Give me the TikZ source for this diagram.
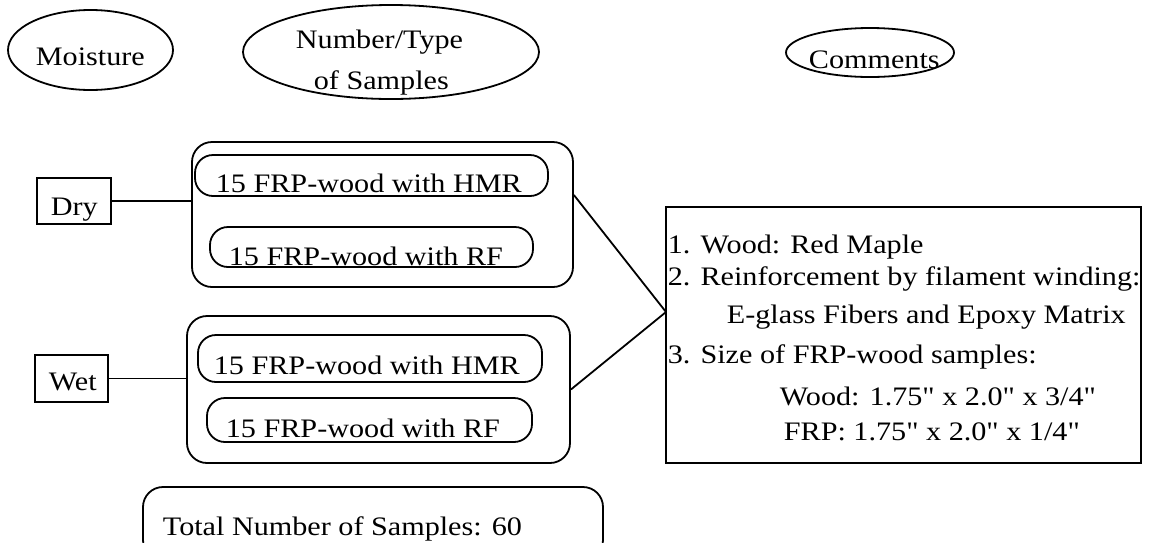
\documentclass[tikz,border=0pt]{standalone}
\usepackage{fontspec}
\newfontfamily\diagfont{Liberation Serif}[FakeStretch=1.13]
\usepackage{tikz}
\usetikzlibrary{positioning}
\usetikzlibrary{shapes.geometric}
\tikzset{% looks that repeat
        txt/.style={inner sep=0pt, anchor=base west},
        head/.style={draw, ellipse, inner sep=0pt},
        tag/.style={draw, rectangle, inner sep=0pt},
        setbox/.style={draw, rectangle, rounded corners=20pt, inner sep=0pt},
        pill/.style={draw, rectangle, rounded corners=18pt, inner sep=0pt}
        }

\begin{document}
\begin{tikzpicture}[x=1pt, y=-1pt, line width=1.8pt, font=\diagfont\fontsize{26.7}{32}\selectfont]
\useasboundingbox (0,0) rectangle (1149,542);
% headings
\node [head, minimum width=165pt, minimum height=80pt] (moist) at (90.5,50) {};
\node [head, minimum width=296pt, minimum height=94pt] (numtype) at (391,52) {};
\node [head, minimum width=168pt, minimum height=49pt] (comm) at (870,52.5) {};
\node [txt] (moisttxt) at (35,65) {Moisture};
\node [txt] (numtxt) at (295,48) {Number/Type};
\node [txt] (samptxt) at (313,89) {of Samples};
\node [txt] (commtxt) at (808,68) {Comments};
% moisture
\node [tag, minimum width=74pt, minimum height=46pt] (dry) at (74,201) {};
\node [tag, minimum width=73pt, minimum height=47pt] (wet) at (71.5,378.5) {};
\node [txt] (drytxt) at (50,215) {Dry};
\node [txt] (wettxt) at (48,390) {Wet};
% samples
\node [setbox, minimum width=381pt, minimum height=145pt] (dryset) at (382.5,214.5) {};
\node [setbox, minimum width=383pt, minimum height=147pt] (wetset) at (378.5,389.5) {};
\node [pill, minimum width=353pt, minimum height=41pt] (dryhmr) at (371.5,175.5) {};
\node [pill, minimum width=323pt, minimum height=40pt] (dryrf) at (371.5,247) {};
\node [pill, minimum width=344pt, minimum height=47pt] (wethmr) at (370,358.5) {};
\node [pill, minimum width=325pt, minimum height=44pt] (wetrf) at (369.5,420) {};
\node [txt] (dryhmrtxt) at (215,192) {15 FRP-wood with HMR};
\node [txt] (dryrftxt) at (228,265) {15 FRP-wood with RF};
\node [txt] (wethmrtxt) at (213,374) {15 FRP-wood with HMR};
\node [txt] (wetrftxt) at (225,437) {15 FRP-wood with RF};
\node [setbox, minimum width=460pt, minimum height=73pt] (total) at (373,523.5) {};
\node [txt] (totaltxt) at (162,535) {Total Number of Samples: 60};
% comments
\node [tag, minimum width=475pt, minimum height=256pt] (notes) at (903.5,335) {};
\coordinate (join) at (666,312);
\node [txt] (note1) at (667,253) {1. Wood: Red Maple};
\node [txt] (note2) at (667,285) {2. Reinforcement by filament winding:};
\node [txt] (note2b) at (726,323) {E-glass Fibers and Epoxy Matrix};
\node [txt] (note3) at (667,363) {3. Size of FRP-wood samples:};
\node [txt] (note3a) at (779,405) {Wood: 1.75" x 2.0" x 3/4"};
\node [txt] (note3b) at (783,440) {FRP: 1.75" x 2.0" x 1/4"};
% connectors
\draw (dry.east) -- (dry.east -| dryset.west);
\draw (wet.east) -- (wet.east -| wetset.west);
\draw ([yshift=19.5pt]dryset.east) -- (join);
\draw (wetset.east) -- (join);
\end{tikzpicture}
\end{document}
